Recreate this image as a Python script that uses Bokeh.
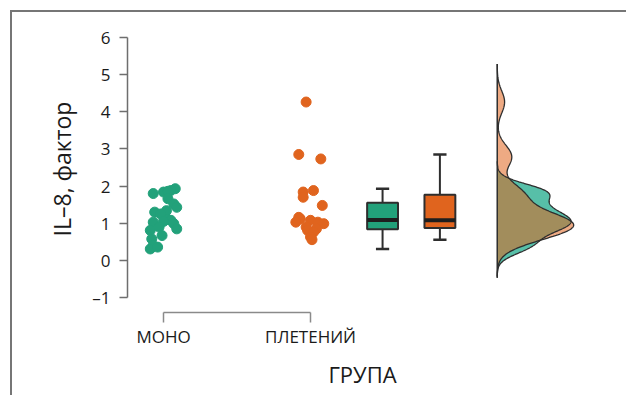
import numpy as np
from bokeh.plotting import figure
from bokeh.models import FixedTicker
from bokeh.embed import file_html
from bokeh.resources import INLINE

# IL-8 fold change per group
groups = ["МОНО", "ПЛЕТЕНИЙ"]
mono_values = [1.93, 1.88, 1.84, 1.80, 1.86, 1.66, 1.52, 1.43, 1.34, 1.30, 1.25, 1.10,
               1.08, 1.05, 0.99, 1.03, 0.85, 0.81, 0.90, 0.67, 0.58, 0.40, 0.31, 0.36]
mono_jitter = [0.08, 0.05, 0.00, -0.07, 0.03, 0.03, 0.07, 0.09, 0.02, -0.06, -0.02, 0.03,
               0.05, 0.00, 0.07, -0.07, 0.09, -0.09, -0.03, -0.01, -0.08, -0.07, -0.09, -0.04]
plet_values = [4.26, 2.85, 2.73, 1.88, 1.84, 1.70, 1.48, 1.16, 1.12, 1.08, 1.03, 0.99,
               1.03, 0.90, 0.85, 0.81, 0.76, 0.63, 0.56]
plet_jitter = [-0.03, -0.08, 0.07, 0.02, -0.05, -0.05, 0.08, -0.08, -0.07, 0.00, 0.05, 0.09,
               -0.10, -0.03, 0.04, -0.02, 0.02, 0.00, 0.01]

y_ticks = [-1, 0, 1, 2, 3, 4, 5, 6]

GREEN = "#22a17a"
ORANGE = "#e0641e"
DARK = "#2e2e2e"
FONT = "Open Sans"

# layout of the three panels along the x axis
group_x = [0, 1]
box_x = [1.49, 1.88]
box_w = 0.21
cap_w = 0.09
dens_base = 2.27
dens_width = 0.52

p = figure(width=616, height=385, output_backend="svg", toolbar_location=None,
           x_range=(-0.245, 2.952), y_range=(-1.398, 6.317),
           min_border_left=115, min_border_right=31, min_border_top=13, min_border_bottom=85,
           margin=(10, 0, 0, 10),
           styles={"border-top": "2px solid #767676", "border-left": "2px solid #767676"})
p.xgrid.visible = False
p.ygrid.visible = False
p.outline_line_color = None
p.background_fill_color = "white"
p.border_fill_color = "white"

# jittered points
p.scatter([group_x[0] + j for j in mono_jitter], mono_values, size=10,
          fill_color=GREEN, line_color=GREEN)
p.scatter([group_x[1] + j for j in plet_jitter], plet_values, size=10,
          fill_color=ORANGE, line_color=ORANGE)

# box plots computed from the same samples
for vals, xc, col in [(mono_values, box_x[0], GREEN), (plet_values, box_x[1], ORANGE)]:
    a = np.array(vals)
    q1, med, q3 = np.percentile(a, [25, 50, 75])
    iqr = q3 - q1
    lo = a[a >= q1 - 1.5 * iqr].min()
    hi = a[a <= q3 + 1.5 * iqr].max()
    p.segment([xc, xc], [q3, q1], [xc, xc], [hi, lo], line_color=DARK, line_width=2)
    p.segment([xc - cap_w / 2] * 2, [hi, lo], [xc + cap_w / 2] * 2, [hi, lo],
              line_color=DARK, line_width=2.5)
    p.vbar(x=[xc], width=box_w, top=[q3], bottom=[q1], fill_color=col,
           line_color=DARK, line_width=2)
    p.segment([xc - box_w / 2], [med], [xc + box_w / 2], [med], line_color="#1e1e1e",
              line_width=4)


# half-violin densities (Gaussian KDE, Silverman bandwidth)
def kde(vals, adjust=0.9, cut=3.4):
    a = np.array(vals)
    n = len(a)
    q1, q3 = np.percentile(a, [25, 75])
    h = adjust * 0.9 * min(a.std(ddof=1), (q3 - q1) / 1.34) * n ** -0.2
    grid = np.linspace(a.min() - cut * h, a.max() + cut * h, 400)
    dens = np.exp(-0.5 * ((grid[:, None] - a[None, :]) / h) ** 2).sum(axis=1)
    dens /= n * h * np.sqrt(2 * np.pi)
    return grid, dens


g_m, d_m = kde(mono_values)
g_p, d_p = kde(plet_values)
scale = dens_width / max(d_m.max(), d_p.max())

p.harea(x1=dens_base, x2=dens_base + d_m * scale, y=g_m, fill_color="#57bfa8", fill_alpha=1.0)
p.harea(x1=dens_base, x2=dens_base + d_p * scale, y=g_p, fill_color=ORANGE, fill_alpha=0.55)
p.line(dens_base + d_m * scale, g_m, line_color=DARK, line_width=1.3)
p.line(dens_base + d_p * scale, g_p, line_color=DARK, line_width=1.3)
y_lo = min(g_m.min(), g_p.min())
y_hi = max(g_m.max(), g_p.max())
p.segment([dens_base], [y_lo], [dens_base], [y_hi], line_color=DARK, line_width=1.5)

# y axis
ya = p.yaxis[0]
ya.ticker = FixedTicker(ticks=y_ticks)
ya.bounds = (min(y_ticks), max(y_ticks))
ya.major_label_overrides = {t: (f"–{abs(t)}" if t < 0 else str(t)) for t in y_ticks}
ya.axis_label = "IL–8, фактор"
ya.axis_line_color = "#6e6e6e"
ya.axis_line_width = 1.5
ya.major_tick_line_color = "#6e6e6e"
ya.major_tick_line_width = 1.5
ya.major_tick_out = 8
ya.major_tick_in = 0
ya.minor_tick_line_color = None
ya.major_label_standoff = 9
ya.major_label_text_font = FONT
ya.major_label_text_font_size = "17px"
ya.major_label_text_color = "#1a1a1a"
ya.axis_label_text_font = FONT
ya.axis_label_text_font_size = "23px"
ya.axis_label_text_font_style = "normal"
ya.axis_label_text_color = "#1a1a1a"
ya.axis_label_standoff = 11

# x axis: bracket spanning the two groups
xa = p.xaxis[0]
xa.ticker = FixedTicker(ticks=group_x)
xa.bounds = (group_x[0], group_x[1])
xa.major_label_overrides = {x: g for x, g in zip(group_x, groups)}
xa.axis_label = "ГРУПА"
xa.axis_line_color = "#8a8a8a"
xa.axis_line_width = 1.5
xa.major_tick_line_color = "#8a8a8a"
xa.major_tick_line_width = 1.5
xa.major_tick_out = 10
xa.major_tick_in = 0
xa.minor_tick_line_color = None
xa.major_label_standoff = 2
xa.major_label_text_font = FONT
xa.major_label_text_font_size = "17px"
xa.major_label_text_color = "#1a1a1a"
xa.axis_label_text_font = FONT
xa.axis_label_text_font_size = "22px"
xa.axis_label_text_font_style = "normal"
xa.axis_label_text_color = "#1a1a1a"
xa.axis_label_standoff = 8

open("out.html", "w").write(file_html(p, INLINE))
